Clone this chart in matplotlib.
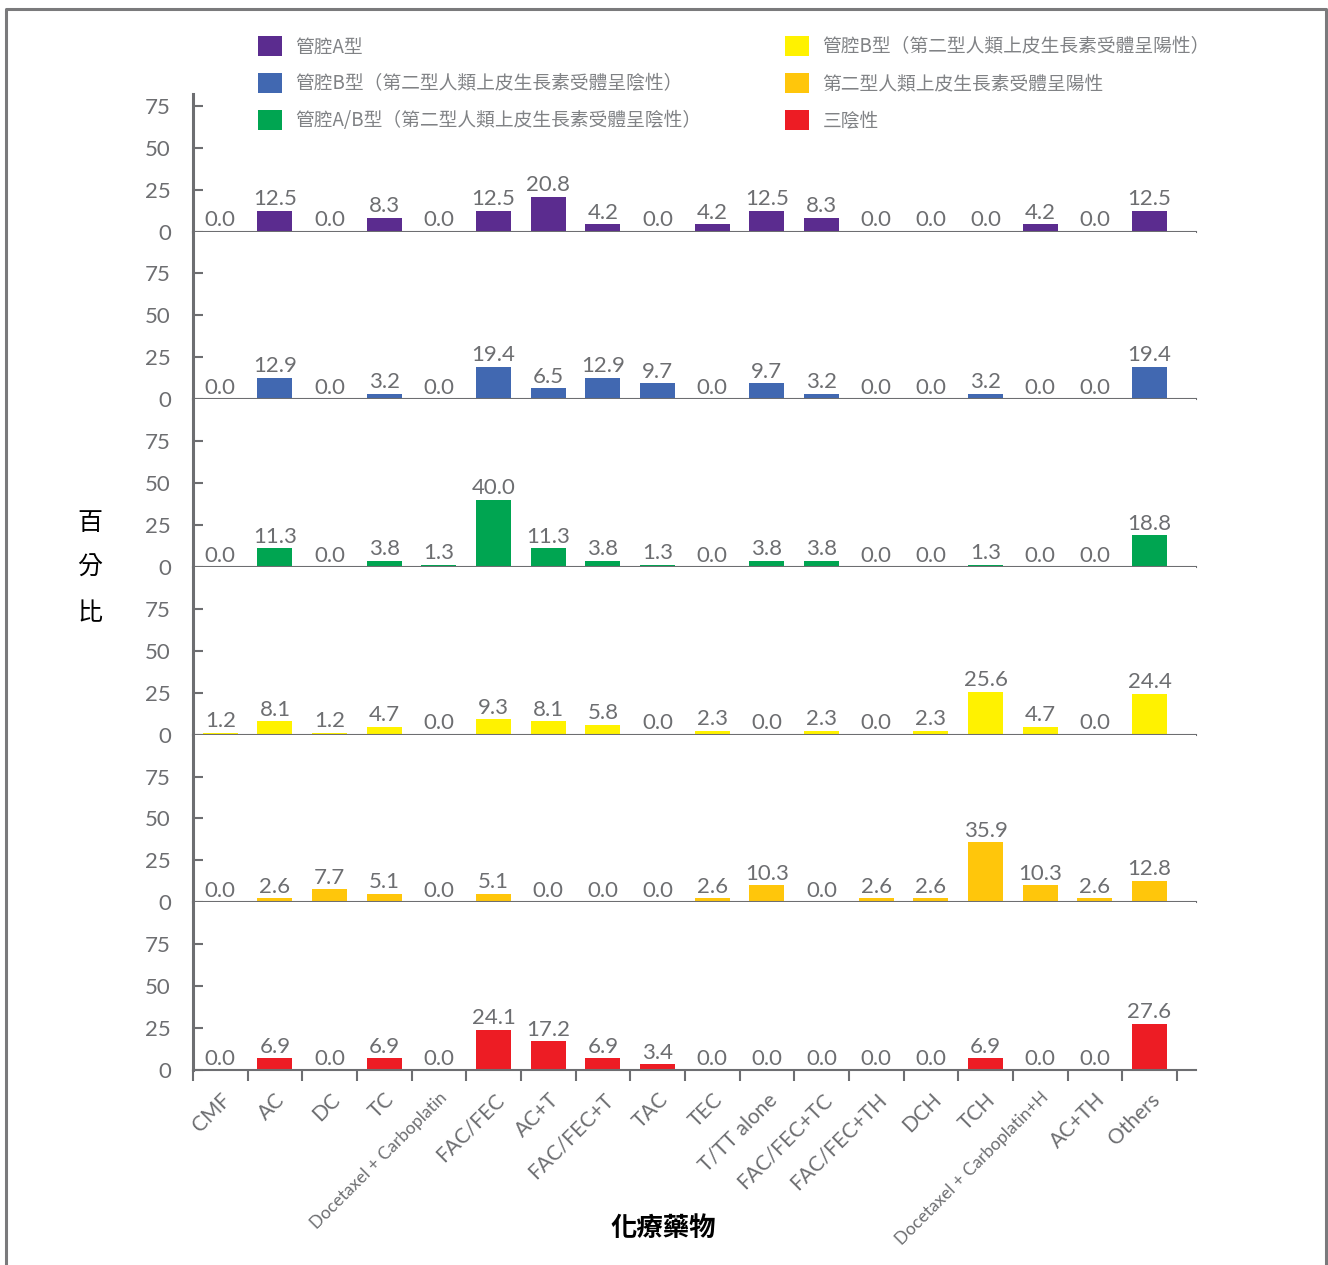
import numpy as np
import matplotlib
matplotlib.use('Agg')
import matplotlib.pyplot as plt
from matplotlib.patches import Patch
from matplotlib.lines import Line2D

plt.rcParams['font.family'] = ['Lato', 'Noto Sans CJK TC', 'DejaVu Sans']

# Regimens on the x axis
regimens = ['CMF', 'AC', 'DC', 'TC', 'Docetaxel + Carboplatin', 'FAC/FEC', 'AC+T',
            'FAC/FEC+T', 'TAC', 'TEC', 'T/TT alone', 'FAC/FEC+TC', 'FAC/FEC+TH',
            'DCH', 'TCH', 'Docetaxel + Carboplatin+H', 'AC+TH', 'Others']

# Percentage of patients per subtype
luminal_a = [0.0, 12.5, 0.0, 8.3, 0.0, 12.5, 20.8, 4.2, 0.0, 4.2, 12.5, 8.3, 0.0, 0.0, 0.0, 4.2, 0.0, 12.5]
luminal_b_neg = [0.0, 12.9, 0.0, 3.2, 0.0, 19.4, 6.5, 12.9, 9.7, 0.0, 9.7, 3.2, 0.0, 0.0, 3.2, 0.0, 0.0, 19.4]
luminal_ab_neg = [0.0, 11.3, 0.0, 3.8, 1.3, 40.0, 11.3, 3.8, 1.3, 0.0, 3.8, 3.8, 0.0, 0.0, 1.3, 0.0, 0.0, 18.8]
luminal_b_pos = [1.2, 8.1, 1.2, 4.7, 0.0, 9.3, 8.1, 5.8, 0.0, 2.3, 0.0, 2.3, 0.0, 2.3, 25.6, 4.7, 0.0, 24.4]
her2_pos = [0.0, 2.6, 7.7, 5.1, 0.0, 5.1, 0.0, 0.0, 0.0, 2.6, 10.3, 0.0, 2.6, 2.6, 35.9, 10.3, 2.6, 12.8]
triple_neg = [0.0, 6.9, 0.0, 6.9, 0.0, 24.1, 17.2, 6.9, 3.4, 0.0, 0.0, 0.0, 0.0, 0.0, 6.9, 0.0, 0.0, 27.6]

subtype_names = ['管腔A型',
                 '管腔B型（第二型人類上皮生長素受體呈陰性）',
                 '管腔A/B型（第二型人類上皮生長素受體呈陰性）',
                 '管腔B型（第二型人類上皮生長素受體呈陽性）',
                 '第二型人類上皮生長素受體呈陽性',
                 '三陰性']
subtype_values = [luminal_a, luminal_b_neg, luminal_ab_neg, luminal_b_pos, her2_pos, triple_neg]
colors = ['#5B2C8F', '#4168B1', '#00A551', '#FFF200', '#FFC60B', '#ED1C24']

GRAY = '#6D6E71'
x = np.arange(len(regimens))

fig = plt.figure(figsize=(13.28, 12.65), dpi=100)
gs = fig.add_gridspec(6, 1, height_ratios=[82, 100, 100, 100, 100, 100], hspace=0,
                      left=193 / 1328, right=1196 / 1328,
                      bottom=1 - 1070 / 1265, top=1 - 94 / 1265)

axes = []
for k, (vals, col) in enumerate(zip(subtype_values, colors)):
    ax = fig.add_subplot(gs[k])
    axes.append(ax)
    ax.bar(x, vals, width=0.64, color=col, zorder=2)
    for xi, v in zip(x, vals):
        ax.annotate(f'{v:.1f}', (xi, v), xytext=(0, 1), textcoords='offset points',
                    ha='center', va='bottom', fontsize=16, color=GRAY)
    ax.set_xlim(-0.5, 17.85)
    ax.set_ylim(0, 82 if k == 0 else 100)
    ax.set_yticks([0, 25, 50, 75])
    ax.tick_params(axis='y', direction='in', length=7, width=1.5, color=GRAY,
                   labelsize=16, labelcolor=GRAY, pad=16)
    for s in ('top', 'right'):
        ax.spines[s].set_visible(False)
    ax.spines['left'].set_color(GRAY)
    ax.spines['left'].set_linewidth(2.2)
    ax.spines['bottom'].set_color(GRAY)
    ax.spines['bottom'].set_linewidth(1.5)
    ax.spines['bottom'].set_zorder(3)
    if k < 5:
        ax.set_xticks([])
    else:
        ax.set_xticks(np.arange(-0.5, 18, 1))
        ax.set_xticklabels([])
        ax.tick_params(axis='x', which='major', direction='out', length=8, width=1.5, color=GRAY)
        ax.set_xticks(x, minor=True)
        ax.set_xticklabels(regimens, minor=True)
        ax.tick_params(axis='x', which='minor', length=0, pad=14, labelcolor=GRAY, labelsize=15)
        for lab in ax.get_xticklabels(minor=True):
            lab.set_rotation(45)
            lab.set_ha('right')
            lab.set_rotation_mode('anchor')
            if lab.get_text().startswith('Docetaxel'):
                lab.set_fontsize(12.5)

handles = [Patch(facecolor=c, edgecolor='none') for c in colors]
fig.legend(handles, subtype_names, ncol=2, loc='upper left', frameon=False,
           bbox_to_anchor=(258 / 1328, 1 - 36 / 1265), borderpad=0, borderaxespad=0,
           labelcolor='#808285', handlelength=1.3, handleheight=1.3,
           handletextpad=0.7, labelspacing=0.82, columnspacing=4.45,
           prop={'family': ['Noto Sans CJK TC', 'DejaVu Sans'], 'size': 13.5})

fig.text(90 / 1328, 1 - 568 / 1265, '百\n分\n比', ha='center', va='center',
         fontsize=18, fontweight='medium', linespacing=1.95,
         family=['Noto Sans CJK TC', 'DejaVu Sans'])
fig.text(663 / 1328, 1 - 1228 / 1265, '化療藥物', ha='center', va='center',
         fontsize=19, fontweight='bold', family=['Noto Sans CJK TC', 'DejaVu Sans'])

# outer frame (left, top, right)
xl, xr, yt = 5.5 / 1328, 1325.5 / 1328, 1 - 9 / 1265
fig.add_artist(Line2D([xl, xl, xr, xr], [0, yt, yt, 0], transform=fig.transFigure,
                      color='#7A7A7C', linewidth=2.2))

fig.savefig('out.png', dpi=100)
